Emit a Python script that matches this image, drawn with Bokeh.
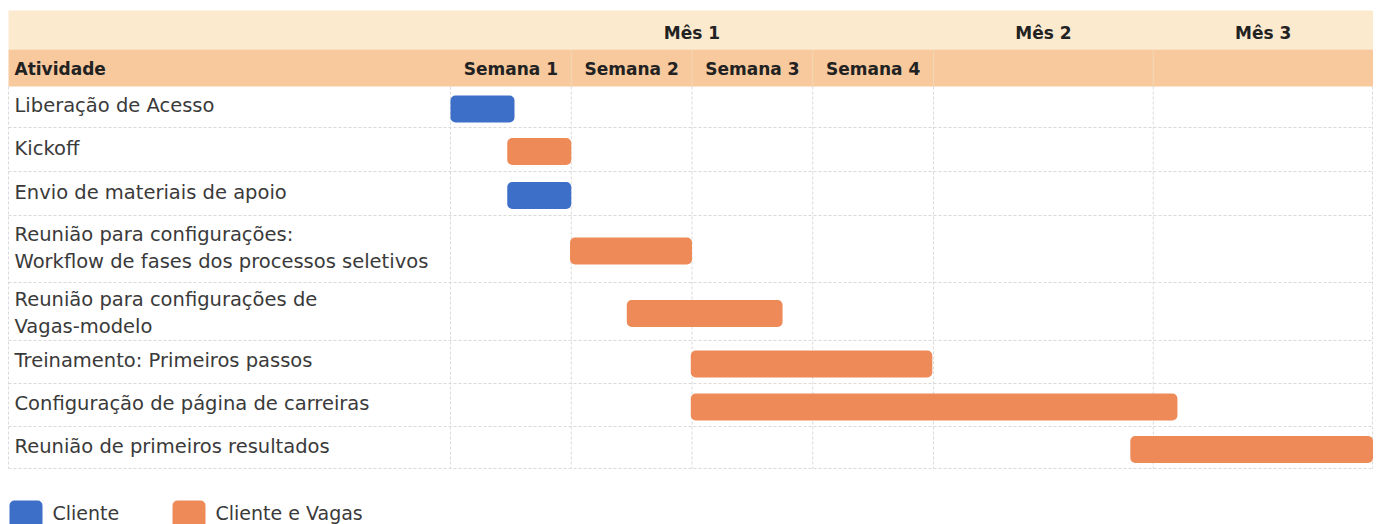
from bokeh.plotting import figure
from bokeh.models import Range1d
from bokeh.core.properties import value
from bokeh.embed import file_html
from bokeh.resources import INLINE

# ---------------- data ----------------
activities = [
    "Liberação de Acesso",
    "Kickoff",
    "Envio de materiais de apoio",
    "Reunião para configurações:\nWorkflow de fases dos processos seletivos",
    "Reunião para configurações de\nVagas-modelo",
    "Treinamento: Primeiros passos",
    "Configuração de página de carreiras",
    "Reunião de primeiros resultados",
]
# start / end in timeline units (1 unit = one week column)
starts = [0.0, 0.47, 0.47, 0.99, 1.46, 1.99, 1.99, 5.63]
ends = [0.53, 1.0, 1.0, 2.0, 2.75, 3.99, 6.02, 7.64]
owners = ["Cliente", "Cliente e Vagas", "Cliente", "Cliente e Vagas",
          "Cliente e Vagas", "Cliente e Vagas", "Cliente e Vagas", "Cliente e Vagas"]
week_labels = ["Semana 1", "Semana 2", "Semana 3", "Semana 4"]
week_edges = [0, 1, 2, 3, 4]
month_labels = ["Mês 1", "Mês 2", "Mês 3"]
month_edges = [0, 4, 5.82, 7.64]
legend_labels = ["Cliente", "Cliente e Vagas"]
colors = {"Cliente": "#3d6fc9", "Cliente e Vagas": "#ee8a57"}

# ---------------- layout ----------------
W, H = 1379, 524
X0_PX, WEEK_PX = 450, 120.75


def X(cx):
    return (cx - X0_PX) / WEEK_PX


HEAD_TOP, HEAD_MID, HEAD_BOT = 10, 49, 86
row_heights = [41, 44, 44, 67, 58, 43, 43, 42]
row_edges = [HEAD_BOT]
for h in row_heights:
    row_edges.append(row_edges[-1] + h)
row_centers = [(a + b) / 2 for a, b in zip(row_edges[:-1], row_edges[1:])]
label_shift = [-1.5, -1.5, -1.5, -1.0, 1.5, -1.5, -1.5, -1.5]
left = X(8)
right = month_edges[-1]

p = figure(width=W, height=H, x_range=Range1d(X(0), X(W)), y_range=Range1d(H, 0),
           output_backend="svg", toolbar_location=None, min_border=0,
           x_axis_type=None, y_axis_type=None)
p.grid.visible = False
p.outline_line_color = None
p.background_fill_color = "white"
p.border_fill_color = "white"

FONT = value("DejaVu Sans")
LABEL_COLOR = "#3a3a3a"
HEAD_COLOR = "#222222"

# header bands
p.quad(left=[left], right=[right], top=[HEAD_TOP], bottom=[HEAD_MID], fill_color="#fceacf", line_color=None)
p.quad(left=[left], right=[right], top=[HEAD_MID], bottom=[HEAD_BOT], fill_color="#f7c99d", line_color=None)
sep = week_edges[1:] + [month_edges[2]]
p.segment(x0=sep, x1=sep, y0=[HEAD_MID] * len(sep), y1=[HEAD_BOT] * len(sep),
          line_color="#f3d6b6", line_width=1)

# header texts
p.text(x=[(a + b) / 2 for a, b in zip(month_edges[:-1], month_edges[1:])], y=[32] * 3,
       text=month_labels, text_font=FONT, text_font_style="bold", text_font_size="17px",
       text_align="center", text_baseline="middle", text_color=HEAD_COLOR)
p.text(x=[(a + b) / 2 for a, b in zip(week_edges[:-1], week_edges[1:])], y=[68] * 4,
       text=week_labels, text_font=FONT, text_font_style="bold", text_font_size="17px",
       text_align="center", text_baseline="middle", text_color=HEAD_COLOR)
p.text(x=[X(14)], y=[68], text=["Atividade"], text_font=FONT, text_font_style="bold",
       text_font_size="17px", text_align="left", text_baseline="middle", text_color=HEAD_COLOR)

# grid lines
GRID = "#dadada"
p.segment(x0=[left] * 8, x1=[right] * 8, y0=row_edges[1:], y1=row_edges[1:],
          line_color=GRID, line_width=1, line_dash="3 2")
vx = [X(8)] + week_edges + month_edges[2:]
vx[-1] = X(1372)
p.segment(x0=vx, x1=vx, y0=[HEAD_BOT] * len(vx), y1=[row_edges[-1]] * len(vx),
          line_color=GRID, line_width=1, line_dash="3 2")

# activity labels
p.text(x=[X(14)] * len(activities), y=[c + s for c, s in zip(row_centers, label_shift)],
       text=activities, text_font=FONT, text_font_size="19.5px", text_align="left",
       text_baseline="middle", text_color=LABEL_COLOR, text_line_height=1.19)

# bars
BAR_H = 27
p.quad(left=starts, right=ends,
       top=[c + 2 - BAR_H / 2 for c in row_centers],
       bottom=[c + 2 + BAR_H / 2 for c in row_centers],
       fill_color=[colors[o] for o in owners], line_color=None, border_radius=5)

# legend
p.quad(left=[X(9), X(172)], right=[X(42), X(205)], top=[500, 500], bottom=[528, 528],
       fill_color=[colors[l] for l in legend_labels], line_color=None, border_radius=5)
p.text(x=[X(52), X(215)], y=[512, 512], text=legend_labels, text_font=FONT,
       text_font_size="19px", text_align="left", text_baseline="middle", text_color=LABEL_COLOR)

open("out.html", "w").write(file_html(p, INLINE))
